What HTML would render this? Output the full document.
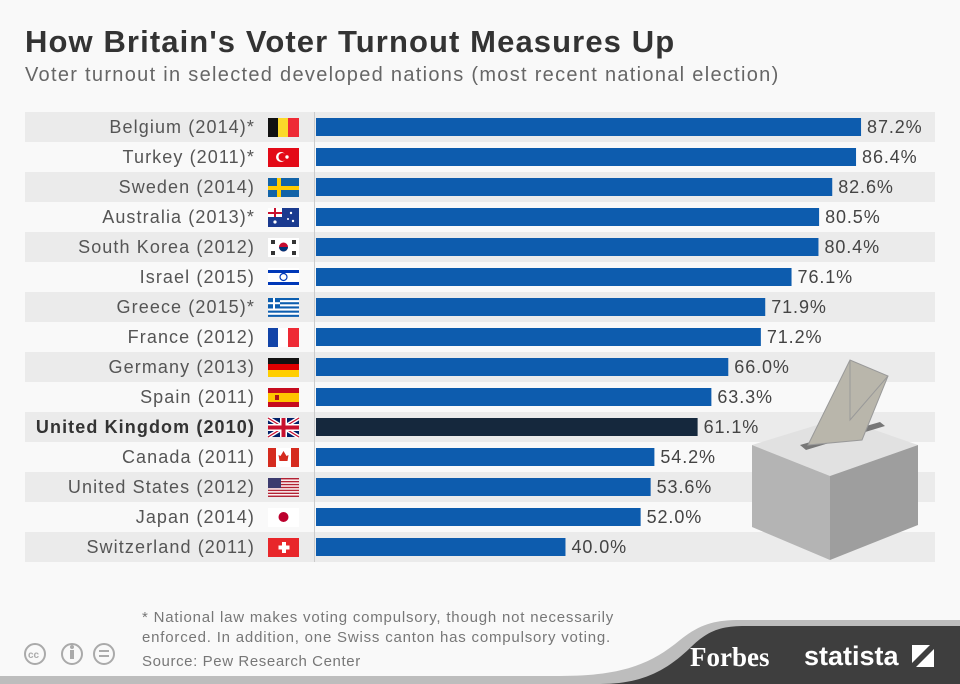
<!DOCTYPE html>
<html><head><meta charset="utf-8"><style>
body{margin:0;width:960px;height:684px;background:#f9f9f9;font-family:"Liberation Sans",sans-serif;overflow:hidden;position:relative}
#t{position:absolute;left:25px;top:24px;font-size:31px;font-weight:bold;color:#333;letter-spacing:1.1px}
#s{position:absolute;left:25px;top:64px;font-size:20px;color:#666;letter-spacing:1.3px}
</style></head><body>
<div id="t">How Britain's Voter Turnout Measures Up</div>
<div id="s">Voter turnout in selected developed nations (most recent national election)</div>
<svg id="c" width="960" height="684" style="position:absolute;left:0;top:0"></svg>
<script>
const categories=["Belgium (2014)*","Turkey (2011)*","Sweden (2014)","Australia (2013)*","South Korea (2012)","Israel (2015)","Greece (2015)*","France (2012)","Germany (2013)","Spain (2011)","United Kingdom (2010)","Canada (2011)","United States (2012)","Japan (2014)","Switzerland (2011)"];
const values=[87.2,86.4,82.6,80.5,80.4,76.1,71.9,71.2,66.0,63.3,61.1,54.2,53.6,52.0,40.0];
const valueLabels=["87.2%","86.4%","82.6%","80.5%","80.4%","76.1%","71.9%","71.2%","66.0%","63.3%","61.1%","54.2%","53.6%","52.0%","40.0%"];
const flags=[["v","#111","#fbd92a","#ee2a35"],["s","#e30a17"],["sw","#1263a8","#fecc02"],["au"],["kr"],["il"],["gr"],["v","#1244a8","#fff","#ee2a35"],["h","#111","#dd0000","#ffce00"],["es"],["uk"],["ca"],["us"],["jp"],["ch"]];
const ns="http://www.w3.org/2000/svg",svg=document.getElementById('c');
const x=v=>315+v*6.262, y=i=>112+i*30;
function el(t,a,p){const e=document.createElementNS(ns,t);for(const k in a)e.setAttribute(k,a[k]);(p||svg).appendChild(e);return e;}
categories.forEach((c,i)=>{
 if(i%2==0){const r=el('rect',{x:25,y:y(i),width:910,height:30,fill:'#ebebeb'});}
});
const ax=el('line',{x1:314.5,y1:112,x2:314.5,y2:562,stroke:'#ccc'});

categories.forEach((c,i)=>{
 const uk=i==10,cy=y(i)+15;
 const t=el('text',{x:255,y:cy+6,'text-anchor':'end','font-size':18,fill:uk?'#333':'#555','font-weight':uk?'bold':'normal','letter-spacing':'1.1px'});
 t.textContent=c;
 const g=el('g',{});
 const fx=268,fy=cy-9,fw=31,fh=19,f=flags[i];
 const R=(a,b,w,h,col)=>el('rect',{x:fx+a,y:fy+b,width:w,height:h,fill:col},g);
 R(0,0,fw,fh,'#fff');
 if(f[0]=='v'){R(0,0,11,fh,f[1]);R(10,0,11,fh,f[2]);R(20,0,11,fh,f[3]);}
 else if(f[0]=='h'){R(0,0,fw,7,f[1]);R(0,6,fw,7,f[2]);R(0,12,fw,7,f[3]);}
 else if(f[0]=='s'){R(0,0,fw,fh,f[1]);el('circle',{cx:fx+13,cy:cy,r:5,fill:'#fff'},g);el('circle',{cx:fx+14.5,cy:cy,r:4,fill:f[1]},g);el('circle',{cx:fx+19,cy:cy,r:1.7,fill:'#fff'},g);}
 else if(f[0]=='sw'){R(0,0,fw,fh,f[1]);R(9,0,4,fh,f[2]);R(0,8,fw,4,f[2]);}
 else if(f[0]=='au'){R(0,0,fw,fh,'#1a3a8f');R(0,0,14,9,'#fff');R(6,0,2,9,'#c8102e');R(0,4,14,2,'#c8102e');el('circle',{cx:fx+7,cy:fy+14,r:1.6,fill:'#fff'},g);el('circle',{cx:fx+23,cy:fy+5,r:1.2,fill:'#fff'},g);el('circle',{cx:fx+25,cy:fy+13,r:1.2,fill:'#fff'},g);el('circle',{cx:fx+20,cy:fy+11,r:1,fill:'#fff'},g);}
 else if(f[0]=='kr'){el('circle',{cx:fx+15.5,cy:cy,r:4.5,fill:'#c60c30'},g);el('path',{d:`M${fx+11} ${cy} a4.5 4.5 0 0 0 9 0z`,fill:'#003478'},g);R(3,2,4,4,'#333');R(24,2,4,4,'#333');R(3,13,4,4,'#333');R(24,13,4,4,'#333');}
 else if(f[0]=='il'){R(0,2,fw,3,'#0038b8');R(0,14,fw,3,'#0038b8');el('circle',{cx:fx+15.5,cy:cy,r:3.5,fill:'none',stroke:'#0038b8','stroke-width':1.2},g);}
 else if(f[0]=='gr'){for(let k=0;k<9;k+=2)R(0,k*2.1,fw,2.1,'#0d5eaf');R(0,0,12,10.5,'#0d5eaf');R(5,0,2,10.5,'#fff');R(0,4.2,12,2,'#fff');}
 else if(f[0]=='es'){R(0,0,fw,fh,'#c60b1e');R(0,5,fw,9,'#ffc400');R(7,7,4,5,'#ad1519');}
 else if(f[0]=='uk'){R(0,0,fw,fh,'#012169');el('path',{d:`M${fx} ${fy}L${fx+fw} ${fy+fh}M${fx+fw} ${fy}L${fx} ${fy+fh}`,stroke:'#fff','stroke-width':4},g);el('path',{d:`M${fx} ${fy}L${fx+fw} ${fy+fh}M${fx+fw} ${fy}L${fx} ${fy+fh}`,stroke:'#c8102e','stroke-width':1.3},g);R(12,0,7,fh,'#fff');R(0,6,fw,7,'#fff');R(13.5,0,4,fh,'#c8102e');R(0,7.5,fw,4,'#c8102e');}
 else if(f[0]=='ca'){R(0,0,8,fh,'#d52b1e');R(23,0,8,fh,'#d52b1e');el('path',{d:`M${fx+15.5} ${fy+3}l3 5l2-1l-1 6h-8l-1-6l2 1z`,fill:'#d52b1e'},g);}
 else if(f[0]=='us'){for(let k=0;k<7;k++)R(0,k*2.92,fw,1.46,'#b22234');R(0,0,13,10,'#3c3b6e');}
 else if(f[0]=='jp'){el('circle',{cx:fx+15.5,cy:cy,r:5,fill:'#bc002d'},g);}
 else if(f[0]=='ch'){R(0,0,fw,fh,'#e8262a');R(14,4,4,11,'#fff');R(10.5,7.5,11,4,'#fff');}
 const b=el('rect',{x:316,y:cy-9,width:x(values[i])-316,height:18,fill:uk?'#15283d':'#0d5cae'});
 
 const v=el('text',{x:x(values[i])+6,y:cy+6,'font-size':18,fill:'#444','letter-spacing':'0.9px'});
 v.textContent=valueLabels[i];
});
// ballot box
const bb=el('g',{});
el('polygon',{points:'752,445 840,418 918,445 830,476',fill:'#e1e1e1'},bb);
el('polygon',{points:'800,445 880,422 885,426 806,450',fill:'#777'},bb);
el('polygon',{points:'808,445 850,360 888,376 862,440',fill:'#b9b6ab',stroke:'#999'},bb);
el('polyline',{points:'850,360 850,420 888,376',fill:'none',stroke:'#999'},bb);
el('polygon',{points:'752,445 830,476 830,560 752,527',fill:'#b4b4b4'},bb);
el('polygon',{points:'830,476 918,445 918,525 830,560',fill:'#9e9e9e'},bb);
// footer
const ft=el('g',{});
el('path',{d:'M0 676 L560 676 C620 676 650 665 680 640 C700 624 715 620 740 620 L960 620 L960 684 L0 684Z',fill:'#bdbdbd'},ft);
el('path',{d:'M600 684 C640 684 665 672 690 648 C708 630 722 626 745 626 L960 626 L960 684Z',fill:'#3e3e3e'},ft);
[35,72,104].forEach(cx=>el('circle',{cx:cx,cy:654,r:10,fill:'none',stroke:'#aaa','stroke-width':2},ft));
el('circle',{cx:72,cy:647,r:2,fill:'#aaa'},ft);el('rect',{x:70,y:650,width:4,height:9,fill:'#aaa'},ft);
el('rect',{x:99,y:650,width:10,height:2,fill:'#aaa'},ft);el('rect',{x:99,y:655,width:10,height:2,fill:'#aaa'},ft);
const txt=(s,xx,yy,sz,col,w,n,ls)=>{const t=el('text',{x:xx,y:yy,'font-size':sz,fill:col,'font-weight':w||'normal','letter-spacing':ls||'0px'});t.textContent=s;return t;};
txt('cc',28,658,10,'#aaa','bold','cc-icon');
txt('* National law makes voting compulsory, though not necessarily',142,622,15,'#777','normal','footnote-line-1','0.8px');
txt('enforced. In addition, one Swiss canton has compulsory voting.',142,642,15,'#777','normal','footnote-line-2','0.8px');
txt('Source: Pew Research Center',142,666,15,'#777','normal','source-note','0.6px');
const fb=el('text',{x:690,y:666,'font-size':27,fill:'#fff','font-family':'Liberation Serif','font-weight':'bold'});fb.textContent='Forbes';
txt('statista',804,665,27,'#fff','bold','statista-logo');
el('polygon',{points:'912,645 934,645 934,667 912,667',fill:'#fff'},ft);
el('polygon',{points:'912,663 930,645 934,645 934,649 916,667 912,667',fill:'#3e3e3e'},ft);
</script>
</body></html>
